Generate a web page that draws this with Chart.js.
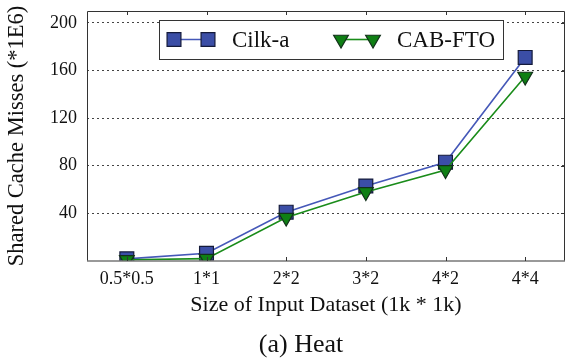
<!DOCTYPE html>
<html>
<head>
<meta charset="utf-8">
<script src="https://cdn.jsdelivr.net/npm/chart.js@4"></script>
<style>
  html, body { margin: 0; padding: 0; background: #fff; }
  #wrap { width: 576px; height: 359px; }
</style>
</head>
<body>
<div id="wrap"><canvas id="heat" width="576" height="359"></canvas></div>
<script>
'use strict';

const sizes = ['0.5*0.5', '1*1', '2*2', '3*2', '4*2', '4*4'];
const cilkA = [1.8, 6.5, 41, 63, 83, 171];
const cabFto = [1, 2, 36.5, 58, 76.5, 155];
const yTicks = [40, 80, 120, 160, 200];
const caption = '(a) Heat';

const SERIF = '"Liberation Serif", "DejaVu Serif", serif';

// box round the plot, small inward ticks, and the caption under it all
const frame = {
	id: 'frame',
	afterDraw(chart) {
		const {ctx, chartArea: a, scales} = chart;
		ctx.save();
		ctx.lineWidth = 1;
		ctx.strokeStyle = '#333';
		ctx.beginPath();
		ctx.moveTo(a.left + 0.5, a.bottom);
		ctx.lineTo(a.left + 0.5, a.top + 0.5);
		ctx.lineTo(a.right - 0.5, a.top + 0.5);
		ctx.lineTo(a.right - 0.5, a.bottom);
		ctx.stroke();
		ctx.strokeStyle = '#777';
		ctx.lineWidth = 1.5;
		ctx.beginPath();
		ctx.moveTo(a.left, a.bottom);
		ctx.lineTo(a.right, a.bottom);
		ctx.stroke();

		ctx.strokeStyle = '#333';
		ctx.lineWidth = 1;
		ctx.beginPath();
		scales.x.ticks.forEach((t, i) => {
			const px = Math.round(scales.x.getPixelForTick(i)) + 0.5;
			ctx.moveTo(px, a.top);
			ctx.lineTo(px, a.top + 4);
			ctx.moveTo(px, a.bottom);
			ctx.lineTo(px, a.bottom - 4);
		});
		yTicks.forEach(v => {
			const py = Math.round(scales.y.getPixelForValue(v)) + 0.5;
			ctx.moveTo(a.right, py);
			ctx.lineTo(a.right - 4, py);
		});
		ctx.stroke();

		ctx.fillStyle = '#111';
		ctx.font = '26px ' + SERIF;
		ctx.textAlign = 'center';
		ctx.textBaseline = 'middle';
		ctx.fillText(caption, 301, 345);
		ctx.restore();
	}
};

// legend: white box, marker-line-marker sample, then name
const legendBox = {
	id: 'legendBox',
	afterDraw(chart) {
		const {ctx} = chart;
		const x0 = 159, y0 = 20, x1 = 503, y1 = 59;
		const cy = (y0 + y1) / 2;
		ctx.save();
		ctx.fillStyle = '#fff';
		ctx.fillRect(x0, y0, x1 - x0, y1 - y0);
		ctx.strokeStyle = '#333';
		ctx.lineWidth = 1;
		ctx.strokeRect(x0 + 0.5, y0 + 0.5, x1 - x0, y1 - y0);

		const items = [
			{ds: chart.data.datasets[1], a: 174, b: 208, tx: 232},
			{ds: chart.data.datasets[0], a: 341, b: 373, tx: 397},
		];
		items.forEach(it => {
			const ds = it.ds;
			ctx.strokeStyle = ds.borderColor;
			ctx.lineWidth = ds.borderWidth;
			ctx.beginPath();
			ctx.moveTo(it.a, cy);
			ctx.lineTo(it.b, cy);
			ctx.stroke();
			const opts = {
				pointStyle: ds.pointStyle,
				rotation: ds.pointRotation || 0,
				radius: ds.pointRadius,
				borderWidth: ds.pointBorderWidth,
			};
			ctx.fillStyle = ds.pointBackgroundColor;
			ctx.strokeStyle = ds.pointBorderColor;
			ctx.lineWidth = ds.pointBorderWidth;
			Chart.helpers.drawPoint(ctx, opts, it.a, cy);
			Chart.helpers.drawPoint(ctx, opts, it.b, cy);
			ctx.fillStyle = '#111';
			ctx.font = '23px ' + SERIF;
			ctx.textAlign = 'left';
			ctx.textBaseline = 'middle';
			ctx.fillText(ds.label, it.tx, cy + 1);
		});
		ctx.restore();
	}
};

new Chart(document.getElementById('heat'), {
	type: 'line',
	data: {
		labels: sizes,
		datasets: [
			{
				label: 'CAB-FTO',
				data: cabFto,
				borderColor: '#1a8c1a',
				borderWidth: 1.6,
				pointStyle: 'triangle',
				pointRotation: 180,
				pointRadius: 8.5,
				pointHoverRadius: 8.5,
				pointBackgroundColor: '#0f7f14',
				pointBorderColor: '#12301a',
				pointBorderWidth: 1.2,
				order: 0,
			},
			{
				label: 'Cilk-a',
				data: cilkA,
				borderColor: '#4558b8',
				borderWidth: 1.6,
				pointStyle: 'rect',
				pointRadius: 9.8,
				pointHoverRadius: 9.8,
				pointBackgroundColor: '#3b4ea6',
				pointBorderColor: '#141a3a',
				pointBorderWidth: 1.2,
				order: 1,
			},
		],
	},
	options: {
		responsive: false,
		animation: false,
		layout: {padding: {top: 10, right: 0, left: 0, bottom: 38}},
		plugins: {
			legend: {display: false},
			tooltip: {enabled: false},
		},
		scales: {
			x: {
				offset: true,
				grid: {display: false, drawTicks: false},
				border: {display: false},
				ticks: {
					color: '#111',
					font: {family: SERIF, size: 18},
					padding: 7,
					maxRotation: 0,
				},
				title: {
					display: true,
					text: 'Size of Input Dataset (1k * 1k)',
					color: '#111',
					font: {family: SERIF, size: 22},
					padding: {top: 0, bottom: 3},
				},
				afterFit: s => {
					s.height = 60;
					s.paddingLeft = 0;
					s.paddingRight = 0;
				},
			},
			y: {
				min: 0,
				max: 210,
				grid: {
					color: ctx => ctx.tick && ctx.tick.value === 0 ? 'rgba(0,0,0,0)' : '#444',
					lineWidth: 1,
					drawTicks: false,
				},
				border: {display: false, dash: [2, 3]},
				ticks: {
					stepSize: 40,
					includeBounds: false,
					color: '#111',
					font: {family: SERIF, size: 18},
					padding: 10,
					callback: v => (v === 0 ? '' : v),
				},
				title: {
					display: true,
					text: 'Shared Cache Misses (*1E6)',
					color: '#111',
					font: {family: SERIF, size: 22.5},
					padding: {top: 4, bottom: 0},
				},
				afterFit: s => {
					s.width = 87;
					s.paddingTop = 0;
					s.paddingBottom = 0;
				},
			},
		},
	},
	plugins: [frame, legendBox],
});
</script>
</body>
</html>
